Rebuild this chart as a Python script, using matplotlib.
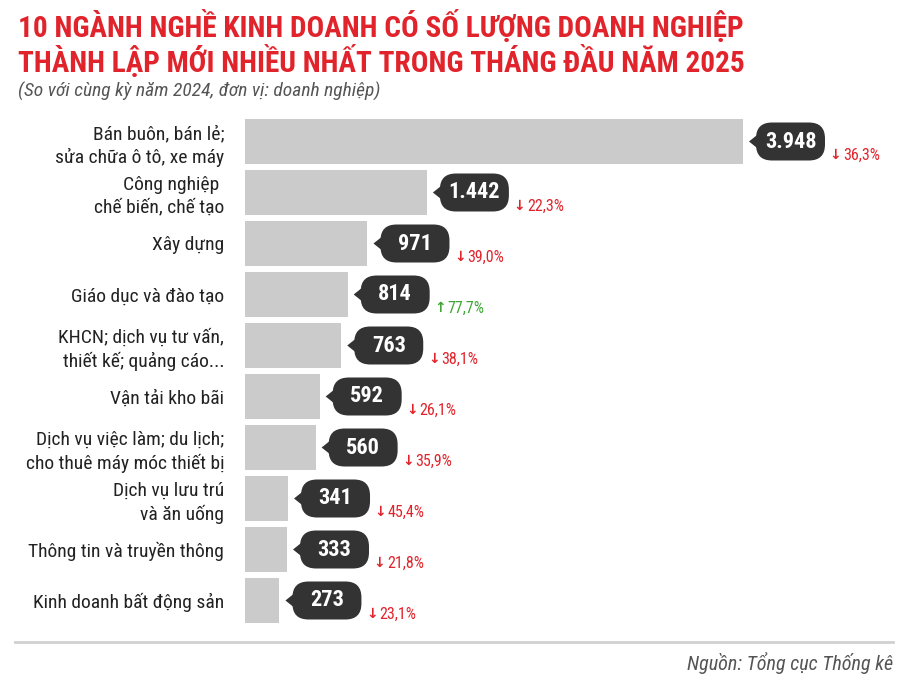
import matplotlib.pyplot as plt
from matplotlib.patches import FancyBboxPatch, Polygon
from matplotlib.transforms import ScaledTranslation

# Data
categories = [
    "Bán buôn, bán lẻ;\nsửa chữa ô tô, xe máy",
    "Công nghiệp \nchế biến, chế tạo",
    "Xây dựng",
    "Giáo dục và đào tạo",
    "KHCN; dịch vụ tư vấn,\nthiết kế; quảng cáo...",
    "Vận tải kho bãi",
    "Dịch vụ việc làm; du lịch;\ncho thuê máy móc thiết bị",
    "Dịch vụ lưu trú\nvà ăn uống",
    "Thông tin và truyền thông",
    "Kinh doanh bất động sản",
]
values = [3948, 1442, 971, 814, 763, 592, 560, 341, 333, 273]
value_labels = ["3.948", "1.442", "971", "814", "763", "592", "560", "341", "333", "273"]
changes = ["36,3%", "22,3%", "39,0%", "77,7%", "38,1%", "26,1%", "35,9%", "45,4%", "21,8%", "23,1%"]
up = [False, False, False, True, False, False, False, False, False, False]

RED = "#e1232b"
GREEN = "#3fa535"
BAR = "#cbcbcb"
BUBBLE = "#333333"
COND = ['Roboto Condensed', 'Roboto', 'DejaVu Sans']

plt.rcParams['font.family'] = COND

W, H = 900, 678
fig = plt.figure(figsize=(W / 100, H / 100), dpi=100)

# axes placed in pixel terms: bars start at x=245, rows 51 px apart
ax = fig.add_axes([245 / W, 1 - 626 / H, 655 / W, 510 / H])
px_per_unit = 498 / 3948
ax.set_xlim(0, 655 / px_per_unit)
ax.set_ylim(len(values) - 0.5, -0.5)

rows = list(range(len(values)))
ax.barh(rows, values, height=0.88, color=BAR)

ax.set_yticks(rows)
ax.set_yticklabels(categories, fontsize=14, color="#222222", linespacing=1.3)
ax.tick_params(axis="y", length=0, pad=15)
ax.set_xticks([])
for s in ax.spines.values():
    s.set_visible(False)

# value bubbles and change labels, sized in inches from the bar end
for i, v in enumerate(values):
    tr = fig.dpi_scale_trans + ScaledTranslation(v, i, ax.transData)
    ax.add_patch(Polygon([(0.06, 0.0), (0.16, 0.08), (0.16, -0.08)],
                         closed=True, fc=BUBBLE, ec="none", transform=tr, clip_on=False))
    ax.add_patch(FancyBboxPatch((0.13, -0.19), 0.69, 0.38,
                                boxstyle="round,pad=0,rounding_size=0.16",
                                fc=BUBBLE, ec="none", transform=tr, clip_on=False))
    ax.text(0.475, 0.0, value_labels[i], transform=tr, ha="center", va="center",
            color="white", fontsize=16, fontweight="bold")
    arrow = "↑" if up[i] else "↓"
    ax.text(0.925, -0.135, arrow, transform=tr, ha="center", va="center",
            color=GREEN if up[i] else RED, fontsize=10, fontweight="bold",
            family=['DejaVu Sans'])
    ax.text(1.0, -0.135, changes[i], transform=tr, ha="left", va="center",
            color=GREEN if up[i] else RED, fontsize=11.5)

# titles
fig.text(18 / W, 1 - 37 / H, "10 NGÀNH NGHỀ KINH DOANH CÓ SỐ LƯỢNG DOANH NGHIỆP",
         color=RED, fontsize=21.1, fontweight="bold", va="baseline")
fig.text(18 / W, 1 - 72 / H, "THÀNH LẬP MỚI NHIỀU NHẤT TRONG THÁNG ĐẦU NĂM 2025",
         color=RED, fontsize=21.1, fontweight="bold", va="baseline")
fig.text(18 / W, 1 - 97 / H, "(So với cùng kỳ năm 2024, đơn vị: doanh nghiệp)",
         color="#555555", fontsize=14, style="italic", va="baseline")

# bottom rule and source
fig.add_artist(plt.Line2D([15 / W, 893 / W], [1 - 642 / H, 1 - 642 / H],
                          color="#d0d0d0", lw=2))
fig.text(893 / W, 1 - 663 / H, "Nguồn: Tổng cục Thống kê", color="#555555",
         fontsize=14.5, style="italic", ha="right", va="center")

fig.savefig("out.png", dpi=100, facecolor="white")
